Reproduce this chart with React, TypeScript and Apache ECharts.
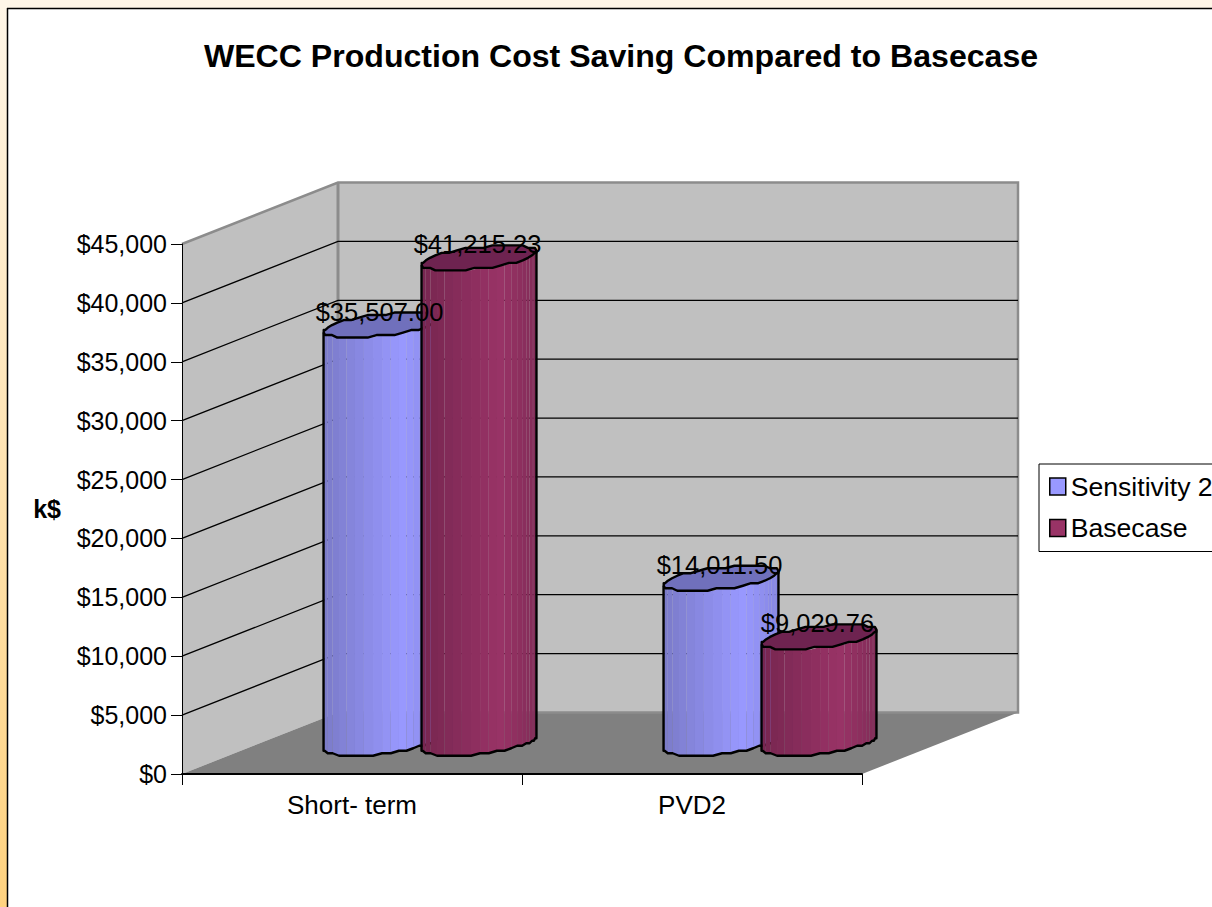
import React, { useEffect, useRef } from "react";
import * as echarts from "echarts";

const title = "WECC Production Cost Saving Compared to Basecase";
const categories = ["Short- term", "PVD2"];
const sensitivity2Values = [35507.0, 14011.5];
const basecaseValues = [41215.23, 9029.76];
const yTicks = [5000, 10000, 15000, 20000, 25000, 30000, 35000, 40000, 45000];

const FONT = "Liberation Sans";
const DEPTH_X = 156;
const DEPTH_Y = -61.5;
const BAR_A = 49;
const BAR_DX = 30;
const BAR_DY = 12.5;
const BAR_SPACING = 98;

type RGB = [number, number, number];
const mix = (a: RGB, b: RGB, t: number) =>
  `rgb(${a.map((v, i) => Math.round(v + (b[i] - v) * t)).join(",")})`;

const shadeStops = (t: number, dark: RGB, bright: RGB, end: RGB) =>
  t < 0.68 ? mix(dark, bright, t / 0.68) : mix(bright, end, (t - 0.68) / 0.32);

function ringPoints(cx: number, cy: number, from: number, to: number, n: number, warp = 1) {
  const pts: number[][] = [];
  for (let i = 0; i <= n; i++) {
    const u = 1 - Math.pow(1 - i / n, warp);
    const th = from + (to - from) * u;
    const x = cx + BAR_A * Math.cos(th) + BAR_DX * Math.sin(th);
    const yy = -BAR_DY * Math.sin(th);
    pts.push([x, cy + Math.round(yy / 2.5) * 2.5]);
  }
  return pts;
}

function cylinderRenderer(
  offset: number,
  dark: RGB,
  bright: RGB,
  end: RGB,
  capColor: string
) {
  return (_params: any, api: any) => {
    const top = api.coord([api.value(0), api.value(1)]);
    const base = api.coord([api.value(0), 0]);
    const cx = top[0] + DEPTH_X / 2 + offset;
    const topY = top[1] + DEPTH_Y / 2;
    const baseY = base[1] + DEPTH_Y / 2;
    const thR = Math.atan2(BAR_DX, BAR_A);
    const from = thR + Math.PI;
    const to = thR + 2 * Math.PI;
    const lower = ringPoints(cx, baseY, from, to, 24, 1.5);
    const upper = ringPoints(cx, topY, from, to, 24, 1.5);
    const R = Math.hypot(BAR_A, BAR_DX);
    const children: any[] = [];
    for (let i = 0; i < 24; i++) {
      const t = ((lower[i][0] + lower[i + 1][0]) / 2 - (cx - R)) / (2 * R);
      children.push({
        type: "polygon",
        silent: true,
        shape: { points: [upper[i], upper[i + 1], lower[i + 1], lower[i]] },
        style: { fill: shadeStops(t, dark, bright, end), stroke: "none" },
      });
    }
    children.push({
      type: "polygon",
      silent: true,
      shape: { points: ringPoints(cx, topY, 0, Math.PI * 2, 40) },
      style: { fill: capColor, stroke: "#000", lineWidth: 2.4, lineJoin: "round" },
    });
    children.push({
      type: "polyline",
      silent: true,
      shape: { points: [upper[0], ...lower, upper[24]] },
      style: { fill: "none", stroke: "#000", lineWidth: 2.4, lineJoin: "round" },
    });
    return { type: "group", children };
  };
}

const money = (v: number) =>
  "$" + v.toLocaleString("en-US", { minimumFractionDigits: 2, maximumFractionDigits: 2 });

function buildOption() {
  const toPoints = (vals: number[]) => vals.map((v, i) => [i, v]);
  const labelData = [
    ...sensitivity2Values.map((v, i) => [i, v, -BAR_SPACING / 2]),
    ...basecaseValues.map((v, i) => [i, v, BAR_SPACING / 2]),
  ];
  return {
    animation: false,
    backgroundColor: "#fff",
    title: {
      text: title,
      left: 616,
      top: 35,
      textAlign: "center",
      textStyle: { fontFamily: FONT, fontSize: 32.1, fontWeight: "bold", color: "#000" },
    },
    tooltip: { show: false },
    legend: {
      left: 1039,
      top: 464,
      orient: "vertical",
      padding: [9, 10, 10, 10],
      itemGap: 14.5,
      itemWidth: 16,
      itemHeight: 17,
      backgroundColor: "#fff",
      borderColor: "#000",
      borderWidth: 1,
      borderRadius: 0,
      selectedMode: false,
      textStyle: { fontFamily: FONT, fontSize: 26.6, color: "#000" },
      data: [
        {
          name: "Sensitivity 2",
          icon: "rect",
          itemStyle: { color: "#9999FF", borderColor: "#000", borderWidth: 1.5 },
        },
        {
          name: "Basecase",
          icon: "rect",
          itemStyle: { color: "#993366", borderColor: "#000", borderWidth: 1.5 },
        },
      ],
    },
    grid: { left: 182, top: 244, width: 680, height: 530, containLabel: false },
    xAxis: {
      type: "category",
      data: categories,
      axisLine: { lineStyle: { color: "#000", width: 2 } },
      axisTick: { show: true, length: 11, lineStyle: { color: "#000", width: 1 } },
      axisLabel: { fontFamily: FONT, fontSize: 26, color: "#000", margin: 18 },
      splitLine: { show: false },
      z: 5,
    },
    yAxis: {
      type: "value",
      min: 0,
      max: 45000,
      interval: 5000,
      name: "k$",
      nameLocation: "middle",
      nameRotate: 0,
      nameGap: 121,
      nameTextStyle: { fontFamily: FONT, fontSize: 25, fontWeight: "bold", color: "#000" },
      axisLine: { show: true, lineStyle: { color: "#000", width: 1 } },
      axisTick: { show: true, length: 11, lineStyle: { color: "#000", width: 1 } },
      axisLabel: {
        fontFamily: FONT,
        fontSize: 25,
        color: "#000",
        margin: 15,
        formatter: (v: number) => "$" + v.toLocaleString("en-US"),
      },
      splitLine: { show: false },
      z: 5,
    },
    graphic: [
      {
        type: "rect",
        shape: { x: 0, y: 0, width: 7, height: 907 },
        style: {
          fill: {
            type: "linear",
            x: 0,
            y: 0,
            x2: 0,
            y2: 1,
            colorStops: [
              { offset: 0, color: "#FFF6E8" },
              { offset: 1, color: "#FFD27F" },
            ],
          },
        },
      },
      { type: "rect", shape: { x: 0, y: 0, width: 1212, height: 8 }, style: { fill: "#FFF6E8" } },
      { type: "line", shape: { x1: 7.5, y1: 8, x2: 7.5, y2: 907 }, style: { stroke: "#000", lineWidth: 1.5 } },
      { type: "line", shape: { x1: 7, y1: 8.5, x2: 1212, y2: 8.5 }, style: { stroke: "#000", lineWidth: 1.5 } },
    ],
    series: [
      {
        type: "custom",
        name: "walls",
        silent: true,
        clip: false,
        z: 1,
        encode: { x: 0, y: 1 },
        data: [[0, 0]],
        renderItem: (params: any, api: any) => {
          const cs = params.coordSys;
          const x0 = cs.x;
          const x1 = cs.x + cs.width;
          const y0 = cs.y;
          const y1 = cs.y + cs.height;
          const p = (x: number, y: number) => [x + DEPTH_X, y + DEPTH_Y];
          const edge = "#8C8C8C";
          return {
            type: "group",
            children: [
              {
                type: "polygon",
                silent: true,
                shape: { points: [[x0, y0], p(x0, y0), p(x0, y1), [x0, y1]] },
                style: { fill: "#C0C0C0" },
              },
              {
                type: "polygon",
                silent: true,
                shape: { points: [p(x0, y0), p(x1, y0), p(x1, y1), p(x0, y1)] },
                style: { fill: "#C0C0C0" },
              },
              {
                type: "polygon",
                silent: true,
                shape: { points: [[x0, y1], [x1, y1], p(x1, y1), p(x0, y1)] },
                style: { fill: "#808080" },
              },
              {
                type: "polyline",
                silent: true,
                shape: { points: [[x0, y0], p(x0, y0), p(x1, y0), p(x1, y1), p(x0, y1)] },
                style: { fill: "none", stroke: edge, lineWidth: 2.5 },
              },
              {
                type: "line",
                silent: true,
                shape: { x1: p(x0, y0)[0], y1: p(x0, y0)[1], x2: p(x0, y1)[0], y2: p(x0, y1)[1] },
                style: { stroke: edge, lineWidth: 3 },
              },
            ],
          };
        },
      },
      {
        type: "custom",
        name: "gridlines",
        silent: true,
        clip: false,
        z: 1.5,
        encode: { x: 0, y: 1 },
        data: yTicks.slice(0, -1).map((v) => [0, v]),
        renderItem: (params: any, api: any) => {
          const cs = params.coordSys;
          const y = api.coord([0, api.value(1)])[1];
          const x0 = cs.x;
          const x1 = cs.x + cs.width;
          return {
            type: "polyline",
            silent: true,
            shape: {
              points: [
                [x0, y],
                [x0 + DEPTH_X, y + DEPTH_Y],
                [x1 + DEPTH_X, y + DEPTH_Y],
              ],
            },
            style: { fill: "none", stroke: "#000", lineWidth: 1.3 },
          };
        },
      },
      {
        type: "custom",
        name: "Sensitivity 2",
        silent: true,
        clip: false,
        z: 3,
        itemStyle: { color: "#9999FF" },
        encode: { x: 0, y: 1 },
        data: toPoints(sensitivity2Values),
        renderItem: cylinderRenderer(-BAR_SPACING / 2, [122, 122, 200], [153, 153, 255], [134, 134, 226], "#7070BC"),
      },
      {
        type: "custom",
        name: "Basecase",
        silent: true,
        clip: false,
        z: 4,
        itemStyle: { color: "#993366" },
        encode: { x: 0, y: 1 },
        data: toPoints(basecaseValues),
        renderItem: cylinderRenderer(BAR_SPACING / 2, [118, 38, 80], [153, 51, 102], [130, 44, 88], "#6E2350"),
      },
      {
        type: "custom",
        name: "labels",
        silent: true,
        clip: false,
        z: 6,
        encode: { x: 0, y: 1 },
        data: labelData,
        renderItem: (_params: any, api: any) => {
          const c = api.coord([api.value(0), api.value(1)]);
          return {
            type: "text",
            silent: true,
            style: {
              text: money(api.value(1)),
              x: c[0] + DEPTH_X / 2 + api.value(2) - 1.5,
              y: c[1] + DEPTH_Y / 2 - 13.5,
              align: "center",
              verticalAlign: "middle",
              fontFamily: FONT,
              fontSize: 25.5,
              fill: "#000",
            },
          };
        },
      },
    ],
  };
}

export default function App() {
  const ref = useRef<HTMLDivElement>(null);
  useEffect(() => {
    document.body.style.margin = "0";
    const chart = echarts.init(ref.current!, undefined, { renderer: "svg" });
    chart.setOption(buildOption() as any);
    return () => chart.dispose();
  }, []);
  return <div ref={ref} style={{ width: 1212, height: 907, overflow: "hidden" }} />;
}
